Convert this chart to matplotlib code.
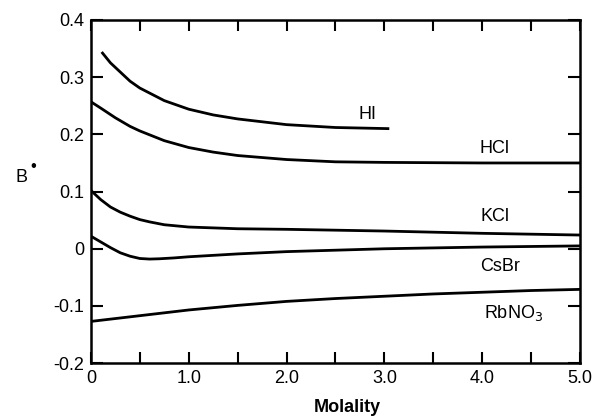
import matplotlib
matplotlib.use("Agg")
import matplotlib.pyplot as plt
from matplotlib.ticker import MultipleLocator

plt.rcParams['font.family'] = ['Liberation Sans', 'DejaVu Sans']

hi_m = [0.11, 0.2, 0.3, 0.4, 0.5, 0.75, 1.0, 1.25, 1.5, 2.0, 2.5, 3.05]
hi_b = [0.344, 0.325, 0.309, 0.293, 0.281, 0.259, 0.244, 0.234, 0.227, 0.217, 0.212, 0.210]

hcl_m = [0, 0.1, 0.25, 0.4, 0.5, 0.75, 1.0, 1.25, 1.5, 2.0, 2.5, 3.0, 4.0, 5.0]
hcl_b = [0.257, 0.246, 0.229, 0.214, 0.206, 0.189, 0.177, 0.169, 0.163, 0.156, 0.152, 0.151, 0.150, 0.150]

kcl_m = [0, 0.05, 0.1, 0.2, 0.3, 0.4, 0.5, 0.6, 0.75, 1.0, 1.5, 2.0, 3.0, 4.0, 5.0]
kcl_b = [0.102, 0.094, 0.086, 0.073, 0.064, 0.057, 0.051, 0.047, 0.042, 0.038, 0.035, 0.034, 0.031, 0.027, 0.024]

csbr_m = [0, 0.1, 0.2, 0.3, 0.4, 0.5, 0.6, 0.7, 0.85, 1.0, 1.5, 2.0, 3.0, 4.0, 5.0]
csbr_b = [0.022, 0.012, 0.002, -0.007, -0.013, -0.017, -0.018, -0.0175, -0.016, -0.014, -0.009, -0.005, 0.000, 0.003, 0.005]

rb_m = [0, 0.5, 1.0, 1.5, 2.0, 2.5, 3.0, 3.5, 4.0, 4.5, 5.0]
rb_b = [-0.127, -0.117, -0.107, -0.099, -0.092, -0.087, -0.083, -0.079, -0.076, -0.073, -0.071]

labels = ['HI', 'HCl', 'KCl', 'CsBr', 'RbNO$_3$']
label_pos = [(2.83, 0.235), (4.13, 0.175), (4.13, 0.057), (4.18, -0.031), (4.32, -0.112)]

x_ticks = [0, 1.0, 2.0, 3.0, 4.0, 5.0]
x_ticklabels = ['0', '1.0', '2.0', '3.0', '4.0', '5.0']
y_ticks = [-0.2, -0.1, 0, 0.1, 0.2, 0.3, 0.4]
y_ticklabels = ['-0.2', '-0.1', '0', '0.1', '0.2', '0.3', '0.4']

fig = plt.figure(figsize=(5.98, 4.16), dpi=100)
ax = fig.add_axes([0.152, 0.127, 0.818, 0.825])

lw = 2.0
for m, b in [(hi_m, hi_b), (hcl_m, hcl_b), (kcl_m, kcl_b), (csbr_m, csbr_b), (rb_m, rb_b)]:
    ax.plot(m, b, color='black', lw=lw, solid_capstyle='butt', solid_joinstyle='round')

for lab, (x, y) in zip(labels, label_pos):
    ax.text(x, y, lab, ha='center', va='center', fontsize=13)

ax.set_xlim(0, 5)
ax.set_ylim(-0.2, 0.4)
ax.set_xticks(x_ticks)
ax.set_xticklabels(x_ticklabels)
ax.xaxis.set_minor_locator(MultipleLocator(0.5))
ax.set_yticks(y_ticks)
ax.set_yticklabels(y_ticklabels)

for s in ax.spines.values():
    s.set_linewidth(1.8)

ax.tick_params(axis='x', which='both', direction='in', top=True, bottom=True,
               length=8, width=1.5, labelsize=13, pad=5)
ax.tick_params(axis='y', which='both', direction='in', left=True, right=True,
               length=8.5, width=1.5, labelsize=13, pad=5)

fig.text(347 / 598, 1 - 407 / 416, 'Molality', fontsize=13, fontweight='semibold',
         ha='center', va='center')
fig.text(0.036, 1 - 178 / 416, 'B', fontsize=13, ha='center', va='center')
fig.text(0.055, 1 - 166 / 416, '\u2022', fontsize=12, ha='center', va='center')

fig.savefig('out.png', dpi=100)
